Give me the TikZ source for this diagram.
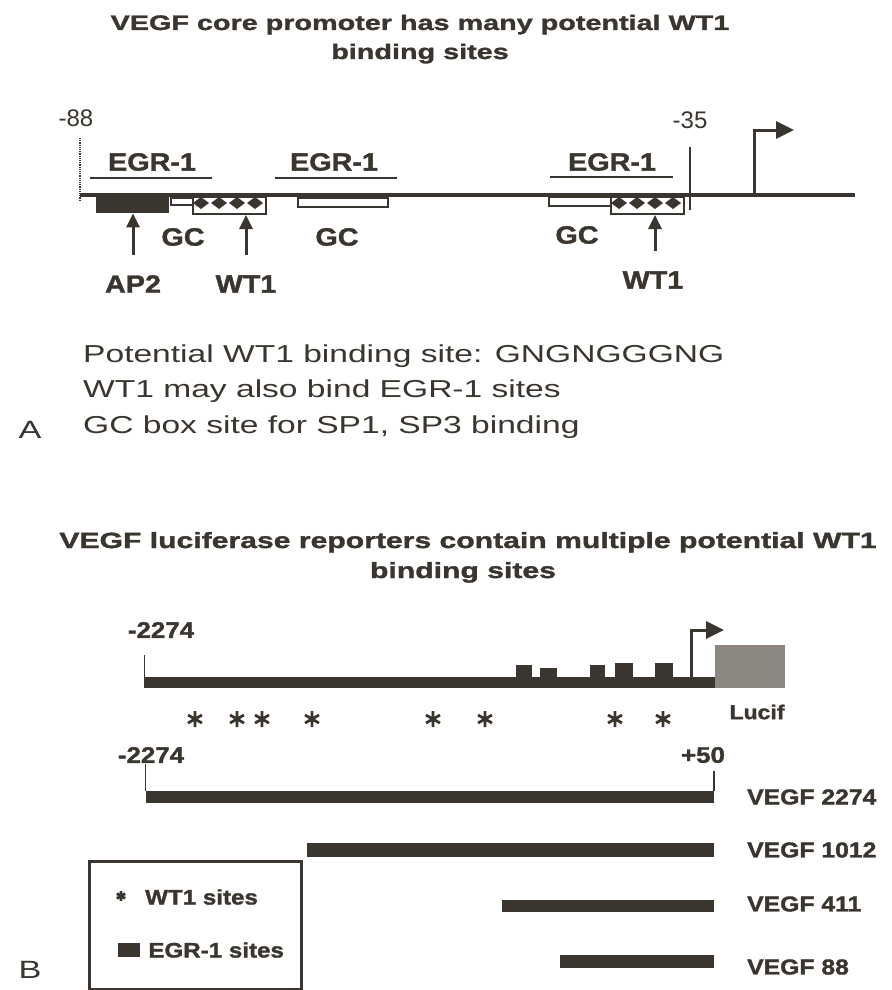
\documentclass[tikz,border=0pt]{standalone}
\usepackage{fontspec}
\setmainfont{Liberation Sans}
\newfontfamily\widefont{Liberation Sans}[FakeStretch=1.37, BoldFeatures={FakeBold=1.5}]
\newfontfamily\midfont{Liberation Sans}[FakeStretch=1.15, BoldFeatures={FakeBold=1.5}]
\usepackage{tikz}
\usetikzlibrary{arrows.meta,positioning}
\definecolor{ink}{RGB}{58,53,46}
\definecolor{lucgray}{RGB}{140,135,128}
\tikzset{
  x=1pt, y=-1pt,
  >={Triangle[length=14pt,width=13pt]},
  ttl/.style={font=\widefont\bfseries\fontsize{21}{25}\selectfont, text=ink, inner sep=0pt, anchor=base},
  body/.style={font=\widefont\fontsize{24.5}{30}\selectfont, text=ink, inner sep=0pt, anchor=base west},
  tag/.style={font=\midfont\bfseries\fontsize{25}{28}\selectfont, text=ink, inner sep=0pt},
  poslbl/.style={font=\fontsize{24}{28}\selectfont, text=ink, inner sep=0pt},
  num/.style={font=\midfont\bfseries\fontsize{22.5}{26}\selectfont, text=ink, inner sep=0pt},
  clone/.style={font=\midfont\bfseries\fontsize{21.5}{25}\selectfont, text=ink, inner sep=0pt, anchor=west},
  legtxt/.style={font=\midfont\bfseries\fontsize{21}{24}\selectfont, text=ink, inner sep=0pt, anchor=west},
  dna/.style={draw=ink, line width=4pt},
  egr/.style={draw=ink, line width=2.5pt},
  gcbox/.style={draw=ink, line width=2pt, fill=white, inner sep=0pt, minimum height=9pt, anchor=north west},
  wtbox/.style={draw=ink, line width=2pt, fill=white, inner sep=0pt, minimum height=17pt, minimum width=73pt, anchor=north west},
  uparr/.style={->, draw=ink, line width=3pt, shorten <=20pt},
  tss/.style={draw=ink, line width=3pt, -{Triangle[length=18pt,width=17pt]}},
  bar/.style={fill=ink, inner sep=0pt, minimum height=12pt, anchor=east},
  tickline/.style={draw=ink, line width=1.5pt},
  wtstar/.pic={\draw[ink, line width=2.8pt] (0,-8)--(0,8) (-7,-4)--(7,4) (-7,4)--(7,-4);},
}
\begin{document}
\begin{tikzpicture}
  \useasboundingbox (0,0) rectangle (891,990);
  % panel A titles
  \node[ttl] (ttlA1) at (420,30) {VEGF core promoter has many potential WT1};
  \node[ttl] (ttlA2) at (420,59) {binding sites};
  % core promoter line
  \node[poslbl] (p88) at (76,118) {-88};
  \node[poslbl] (p35) at (690,120) {-35};
  \draw[draw=ink, line width=1.2pt, densely dotted] (80,138) -- (80,200);
  \draw[draw=ink, line width=1.2pt] (690,147) -- (690,210);
  \draw[dna] (80,195) -- (855,195);
  \coordinate (tssA) at (754,195);
  \draw[tss] (tssA) -- ++(0,-65) -- ++(40,0);
  % EGR-1 sites
  \node[tag] (egr1) at (152,162) {EGR-1};
  \node[tag] (egr2) at (334,162) {EGR-1};
  \node[tag] (egr3) at (612,162) {EGR-1};
  \draw[egr] (90,178) -- (212,178);
  \draw[egr] (275,178) -- (397,178);
  \draw[egr] (550,177) -- (673,177);
  % boxes under the line
  \node[fill=ink, inner sep=0pt, minimum width=73pt, minimum height=17pt, anchor=north west] (ap2b) at (96,196) {};
  \node[gcbox, minimum width=22pt, minimum height=7pt] (gcb1) at (170,197) {};
  \node[wtbox] (wtb1) at (192,196) {};
  \node[gcbox, minimum width=90pt] (gcb2) at (297,197) {};
  \node[gcbox, minimum width=62pt] (gcb3) at (548,196) {};
  \node[wtbox] (wtb2) at (610,196) {};
  \foreach \cx in {201,219,237,255,619,637,655,673}
    \fill[ink] ({\cx-8},203) -- (\cx,197) -- ({\cx+8},203) -- (\cx,209) -- cycle;
  % site labels
  \node[tag] (gc1) at (183,237) {GC};
  \node[tag] (gc2) at (337,237) {GC};
  \node[tag] (gc3) at (577,235) {GC};
  \node[tag] (ap2) at (133,284) {AP2};
  \node[tag] (wt1a) at (246,284) {WT1};
  \node[tag] (wt1b) at (653,280) {WT1};
  \draw[uparr] (ap2.north) -- (ap2.north |- ap2b.south);
  \draw[uparr] (wt1a.north) -- (wt1a.north |- wtb1.south);
  \draw[uparr] ([xshift=2pt]wt1b.north) -- ([xshift=2pt]wt1b.north |- wtb2.south);
  % notes
  \node[body] (n1) at (83,362) {Potential WT1 binding site: GNGNGGGNG};
  \node[body] (n2) at (83,397) {WT1 may also bind EGR-1 sites};
  \node[body] (n3) at (83,433) {GC box site for SP1, SP3 binding};
  \node[body, font=\widefont\fontsize{25}{30}\selectfont, anchor=base] (pA) at (30,438) {A};

  % panel B titles
  \node[ttl, font=\widefont\bfseries\fontsize{22}{26}\selectfont] (ttlB1) at (468,548) {VEGF luciferase reporters contain multiple potential WT1};
  \node[ttl, font=\widefont\bfseries\fontsize{22}{26}\selectfont] (ttlB2) at (463,578) {binding sites};
  % reporter map
  \node[num] (s2274a) at (161,630) {-2274};
  \node[bar, minimum width=570pt, minimum height=11pt] (mapB) at (715,682) {};
  \draw[tickline] (mapB.south west) -- ++(0,-33);
  \foreach \xa/\xb/\yt in {516/532/665, 540/557/668, 590/605/665, 615/633/663, 655/673/663}
    \fill[ink] (\xa,\yt) rectangle (\xb,678);
  \coordinate (tssB) at (691,677);
  \draw[tss] (tssB) -- ++(0,-47) -- ++(33,0);
  \node[fill=lucgray, inner sep=0pt, minimum width=70pt, minimum height=43pt, anchor=south west] (luc) at (715,688) {};
  \node[legtxt, font=\midfont\bfseries\fontsize{20}{24}\selectfont, anchor=center] (lucl) at (757,712) {Lucif};
  \foreach \sx in {195,237,262,312,433,485,615,663}
    \pic at (\sx,719) {wtstar};
  % deletion constructs
  \node[num] (s2274b) at (151,755) {-2274};
  \node[num] (p50) at (703,755) {+50};
  \node[bar, minimum width=568pt] (c2274) at (714,797) {};
  \node[bar, minimum width=407pt, minimum height=14pt] (c1012) at (714,850) {};
  \node[bar, minimum width=212pt] (c411) at (714,906) {};
  \node[bar, minimum width=154pt, minimum height=13pt] (c88) at (714,961) {};
  \draw[tickline] (c2274.north west) -- ++(0,-27);
  \draw[tickline] (c2274.north east) -- ++(0,-20);
  \node[clone, right=33pt of c2274] (l2274) {VEGF 2274};
  \node[clone, right=33pt of c1012] (l1012) {VEGF 1012};
  \node[clone, right=33pt of c411, yshift=2pt] (l411) {VEGF 411};
  \node[clone, right=33pt of c88, yshift=-6pt] (l88) {VEGF 88};
  % legend
  \node[draw=ink, line width=2.5pt, inner sep=0pt, minimum width=212pt, minimum height=128pt, anchor=north west] (legend) at (88,860) {};
  \pic[scale=0.6] at (121,896) {wtstar};
  \node[legtxt] (kwt1) at (145,897) {WT1 sites};
  \node[fill=ink, inner sep=0pt, minimum width=22pt, minimum height=14pt] (egrkey) at (129,950) {};
  \node[legtxt, right=8pt of egrkey] (kegr) {EGR-1 sites};
  \node[body, font=\widefont\fontsize{25}{30}\selectfont, anchor=base] (pB) at (30,978) {B};
\end{tikzpicture}
\end{document}
